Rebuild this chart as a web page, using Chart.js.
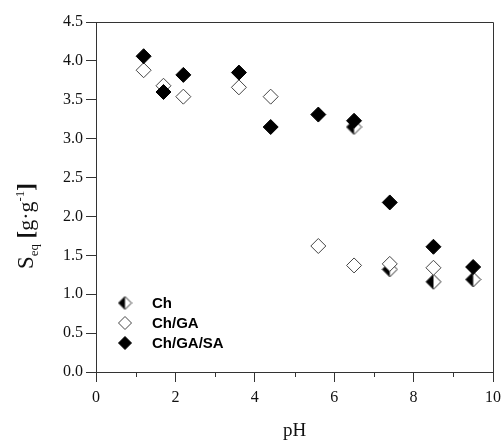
<!DOCTYPE html>
<html>
<head>
<meta charset="utf-8">
<script src="https://cdn.jsdelivr.net/npm/chart.js@4.4.1/dist/chart.umd.min.js"></script>
<style>
  html, body { margin: 0; padding: 0; background: #fff; }
  #wrap { width: 502px; height: 442px; }
</style>
</head>
<body>
<div id="wrap"><canvas id="swellingChart"></canvas></div>
<script>
// Data
const chPH = [6.5, 7.4, 8.5, 9.5];
const chSeq = [3.15, 1.32, 1.16, 1.19];

const chGaPH = [1.2, 1.7, 2.2, 3.6, 4.4, 5.6, 6.5, 7.4, 8.5];
const chGaSeq = [3.88, 3.68, 3.54, 3.66, 3.54, 1.62, 1.37, 1.39, 1.34];

const chGaSaPH = [1.2, 1.7, 2.2, 3.6, 4.4, 5.6, 6.5, 7.4, 8.5, 9.5];
const chGaSaSeq = [4.06, 3.6, 3.82, 3.85, 3.15, 3.31, 3.23, 2.18, 1.61, 1.35];

const xMinorTicks = [1, 3, 5, 7, 9];

function toPoints(xs, ys) {
  return xs.map((x, i) => ({ x: x, y: ys[i] }));
}

// Half filled diamond marker (left black, right white)
function halfDiamond(r) {
  const size = Math.ceil(r * 2 + 2);
  const c = document.createElement("canvas");
  c.width = size;
  c.height = size;
  const g = c.getContext("2d");
  const m = size / 2;
  const diamond = () => {
    g.beginPath();
    g.moveTo(m, m - r);
    g.lineTo(m + r, m);
    g.lineTo(m, m + r);
    g.lineTo(m - r, m);
    g.closePath();
  };
  diamond();
  g.fillStyle = "#fff";
  g.fill();
  g.beginPath();
  g.moveTo(m, m - r);
  g.lineTo(m, m + r);
  g.lineTo(m - r, m);
  g.closePath();
  g.fillStyle = "#000";
  g.fill();
  diamond();
  g.strokeStyle = "#222";
  g.lineWidth = 1;
  g.stroke();
  return c;
}

const chMarker = halfDiamond(7.5);
const chLegendMarker = halfDiamond(6.5);

// Frame on top and right, minor x ticks
const framePlugin = {
  id: "frame",
  afterDraw(chart) {
    const { ctx, chartArea: a, scales } = chart;
    ctx.save();
    ctx.strokeStyle = "#333";
    ctx.lineWidth = 1;
    ctx.beginPath();
    ctx.moveTo(a.left, a.top + 0.5);
    ctx.lineTo(a.right + 0.5, a.top + 0.5);
    ctx.lineTo(a.right + 0.5, a.bottom);
    ctx.stroke();
    xMinorTicks.forEach((v) => {
      const px = Math.round(scales.x.getPixelForValue(v)) + 0.5;
      ctx.beginPath();
      ctx.moveTo(px, a.bottom);
      ctx.lineTo(px, a.bottom + 5);
      ctx.stroke();
    });
    ctx.restore();
  },
};

// Y axis title with subscript and superscript
const yTitlePlugin = {
  id: "yTitle",
  afterDraw(chart) {
    const ctx = chart.ctx;
    const parts = [
      { t: "S", font: "23px 'Liberation Serif'", dy: 0 },
      { t: "eq", font: "13px 'Liberation Serif'", dy: 5 },
      { t: " ", font: "22px 'Liberation Serif'", dy: 0 },
      { t: "[", font: "bold 23px 'Liberation Serif'", dy: 0 },
      { t: "g\u00b7g", font: "22px 'Liberation Serif'", dy: 0 },
      { t: "-1", font: "13px 'Liberation Serif'", dy: -9 },
      { t: "]", font: "bold 23px 'Liberation Serif'", dy: 0 },
    ];
    ctx.save();
    let total = 0;
    parts.forEach((p) => {
      ctx.font = p.font;
      p.w = ctx.measureText(p.t).width;
      total += p.w;
    });
    ctx.translate(33, 226 + total / 2);
    ctx.rotate(-Math.PI / 2);
    ctx.fillStyle = "#111";
    ctx.textBaseline = "alphabetic";
    let x = 0;
    parts.forEach((p) => {
      ctx.font = p.font;
      ctx.fillText(p.t, x, p.dy);
      x += p.w;
    });
    ctx.restore();
  },
};

// Legend inside the plot, lower left
const insideLegendPlugin = {
  id: "insideLegend",
  afterDraw(chart) {
    const ctx = chart.ctx;
    const rows = [303, 323, 343];
    ctx.save();
    ctx.font = "bold 15px 'Liberation Sans'";
    ctx.textBaseline = "middle";
    chart.data.datasets.forEach((ds, i) => {
      const y = rows[i];
      if (i === 0) {
        ctx.drawImage(chLegendMarker, 125 - chLegendMarker.width / 2, y - chLegendMarker.height / 2);
      } else {
        ctx.fillStyle = ds.backgroundColor;
        ctx.strokeStyle = ds.borderColor;
        ctx.lineWidth = 1;
        Chart.helpers.drawPoint(ctx, {
          pointStyle: "rectRot",
          radius: 6.5,
          borderWidth: 1,
          rotation: 0,
        }, 125, y);
      }
      ctx.fillStyle = "#000";
      ctx.fillText(ds.label, 152, y + 1);
    });
    ctx.restore();
  },
};

const ctx = document.getElementById("swellingChart").getContext("2d");
const swellingChart = new Chart(ctx, {
  type: "scatter",
  data: {
    datasets: [
      {
        label: "Ch",
        data: toPoints(chPH, chSeq),
        pointStyle: chMarker,
        backgroundColor: "#000",
        borderColor: "#222",
        order: 3,
      },
      {
        label: "Ch/GA",
        data: toPoints(chGaPH, chGaSeq),
        pointStyle: "rectRot",
        pointRadius: 7.5,
        pointBorderWidth: 1,
        backgroundColor: "#fff",
        borderColor: "#444",
        order: 2,
      },
      {
        label: "Ch/GA/SA",
        data: toPoints(chGaSaPH, chGaSaSeq),
        pointStyle: "rectRot",
        pointRadius: 7.5,
        pointBorderWidth: 1,
        backgroundColor: "#000",
        borderColor: "#000",
        order: 1,
      },
    ],
  },
  options: {
    responsive: true,
    maintainAspectRatio: false,
    animation: false,
    events: [],
    layout: {
      padding: { top: 22, right: 0, left: 0, bottom: 0 },
    },
    plugins: {
      legend: { display: false },
      tooltip: { enabled: false },
    },
    scales: {
      x: {
        type: "linear",
        min: 0,
        max: 10,
        afterFit: (scale) => {
          scale.height = 70;
          scale.paddingRight = 9;
        },
        ticks: {
          stepSize: 2,
          padding: 6,
          color: "#111",
          font: { family: "'Liberation Serif'", size: 16 },
        },
        grid: {
          drawOnChartArea: false,
          tickLength: 10,
          tickColor: "#333",
        },
        border: { display: true, color: "#333", width: 1 },
        title: {
          display: true,
          text: "pH",
          color: "#111",
          padding: { top: 0, bottom: 0 },
          font: { family: "'Liberation Serif'", size: 19 },
        },
      },
      y: {
        type: "linear",
        min: 0,
        max: 4.5,
        afterFit: (scale) => {
          scale.width = 96;
        },
        ticks: {
          stepSize: 0.5,
          padding: 3,
          color: "#111",
          font: { family: "'Liberation Serif'", size: 16 },
          callback: (v) => v.toFixed(1),
        },
        grid: {
          drawOnChartArea: false,
          tickLength: 10,
          tickColor: "#333",
        },
        border: { display: true, color: "#333", width: 1 },
      },
    },
  },
  plugins: [framePlugin, yTitlePlugin, insideLegendPlugin],
});
</script>
</body>
</html>
